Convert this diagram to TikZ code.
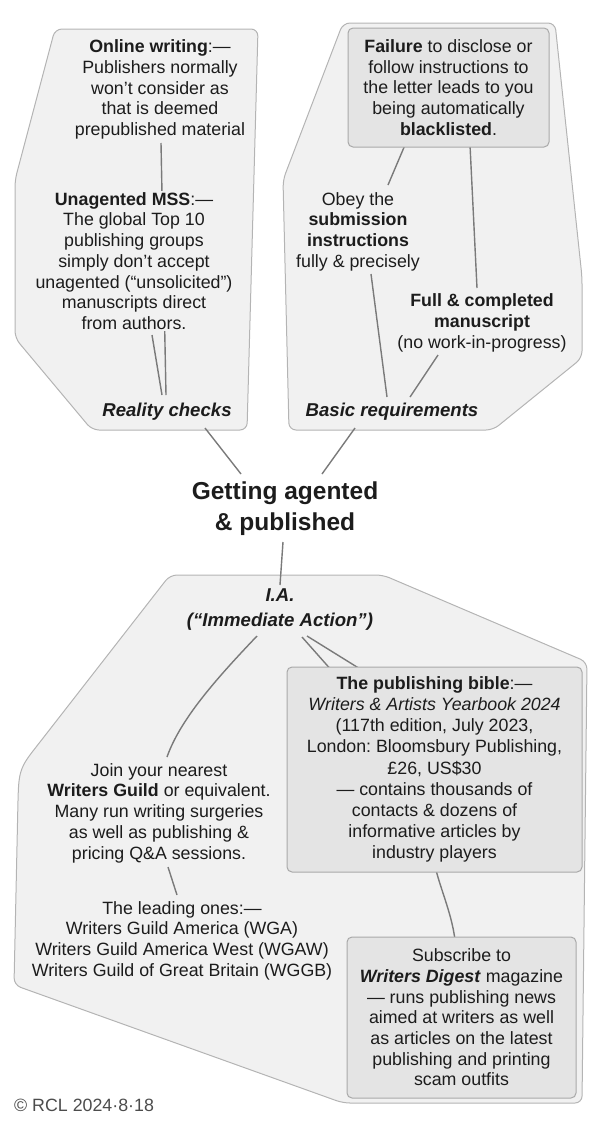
\documentclass[tikz,border=0pt]{standalone}
\usepackage{fontspec}
\setmainfont{Liberation Sans}
\definecolor{clusterbg}{HTML}{F1F1F1}
\definecolor{clusterln}{HTML}{B4B4B4}
\definecolor{boxbg}{HTML}{E4E4E4}
\definecolor{boxln}{HTML}{A9A9A9}
\definecolor{edgec}{HTML}{7A7A7A}
\definecolor{txt}{HTML}{1C1C1C}
\pgfdeclarelayer{back}
\pgfdeclarelayer{lines}
\pgfsetlayers{back,lines,main}
\tikzset{
  cluster/.style={fill=clusterbg, draw=clusterln, line width=1pt, rounded corners=7pt},
  txtnode/.style={align=center, inner sep=1pt, text=txt, font=\fontsize{17.8}{20.7}\selectfont},
  hidenode/.style={txtnode, fill=clusterbg},
  boxnode/.style={txtnode, fill=boxbg, draw=boxln, line width=1pt, rounded corners=5pt},
  lbl/.style={txtnode, font=\fontsize{18.6}{20.7}\selectfont\bfseries\itshape},
  edge/.style={draw=edgec, line width=1.4pt},
}
\frenchspacing
\begin{document}
\frenchspacing
\begin{tikzpicture}[x=1pt,y=-1pt]
\useasboundingbox (0,0) rectangle (600,1127);

% nodes
\node[txtnode] (online) at (160,89.5) {\textbf{Online writing}:—\\Publishers normally\\won’t consider as\\that is deemed\\prepublished material};
\node[hidenode] (mss) at (134,261) {\textbf{Unagented MSS}:—\\The global Top 10\\publishing groups\\simply don’t accept\\unagented (“unsolicited”)\\manuscripts direct\\from authors.};
\node[lbl] (reality) at (167,412) {Reality checks};
\node[boxnode, minimum width=201pt, minimum height=119pt] (failure) at (448.5,87.5) {\textbf{Failure} to disclose or\\follow instructions to\\the letter leads to you\\being automatically\\\textbf{blacklisted}.};
\node[txtnode] (obey) at (358,231.5) {Obey the\\\textbf{submission}\\\textbf{instructions}\\fully \& precisely};
\node[txtnode] (full) at (482,323) {\textbf{Full \& completed}\\\textbf{manuscript}\\(no work-in-progress)};
\node[lbl] (basic) at (392,412) {Basic requirements};
\node[txtnode, font=\fontsize{24.5}{31}\selectfont\bfseries] (getting) at (285,509) {Getting agented\\\& published};
\node[lbl, font=\fontsize{18.6}{25}\selectfont\bfseries\itshape] (ia) at (280,609.5) {I.A.\\(“Immediate Action”)};
\node[boxnode, font=\fontsize{17.8}{21.2}\selectfont, minimum width=295pt, minimum height=205pt] (bible) at (434.5,769.5) {\textbf{The publishing bible}:—\\\textit{Writers \& Artists Yearbook 2024}\\(117th edition, July 2023,\\London: Bloomsbury Publishing,\\£26, US\$30\\— contains thousands of\\contacts \& dozens of\\informative articles by\\industry players};
\node[txtnode] (join) at (159,813) {Join your nearest\\\textbf{Writers Guild} or equivalent.\\Many run writing surgeries\\as well as publishing \&\\pricing Q\&A sessions.};
\node[txtnode] (leading) at (182,940.5) {The leading ones:—\\Writers Guild America (WGA)\\Writers Guild America West (WGAW)\\Writers Guild of Great Britain (WGGB)};
\node[boxnode, minimum width=229pt, minimum height=161pt] (digest) at (461.5,1017.5) {Subscribe to\\\textbf{\textit{Writers Digest}} magazine\\— runs publishing news\\aimed at writers as well\\as articles on the latest\\publishing and printing\\scam outfits};
\node[txtnode, anchor=west, text=black!70] (copy) at (13,1105) {© RCL 2024·8·18};

% connectors
\begin{pgfonlayer}{lines}
\draw[edge] ([xshift=-1pt,yshift=17pt]reality.center) -- ([xshift=1pt,yshift=-53.5pt]online.center);
\draw[edge] ([xshift=-5pt,yshift=17pt]reality.center) -- ([xshift=18pt,yshift=-74pt]mss.center);
\draw[edge] ([xshift=-43.5pt,yshift=-57.5pt]failure.center) -- ([xshift=30pt,yshift=46.5pt]obey.center);
\draw[edge] ([xshift=21.5pt,yshift=-57.5pt]failure.center) -- ([xshift=-5pt,yshift=35pt]full.center);
\draw[edge] ([xshift=-5pt,yshift=15pt]basic.center) -- ([xshift=13pt,yshift=-42.5pt]obey.center);
\draw[edge] ([xshift=18pt,yshift=15pt]basic.center) -- ([xshift=-44pt,yshift=-32pt]full.center);
\draw[edge] ([xshift=38pt,yshift=-16pt]reality.center) -- ([xshift=-44pt,yshift=35pt]getting.center);
\draw[edge] ([xshift=-37pt,yshift=-16pt]basic.center) -- ([xshift=37pt,yshift=35pt]getting.center);
\draw[edge] ([xshift=-2pt,yshift=-33pt]getting.center) -- ([yshift=24.5pt]ia.center);
\draw[edge] ([xshift=-23pt,yshift=-26.5pt]ia.center) .. controls (215,680) and (180,720) .. ([xshift=8pt,yshift=56pt]join.center);
\draw[edge] ([xshift=22pt,yshift=-27.5pt]ia.center) -- ([xshift=-101.5pt,yshift=97.5pt]bible.center);
\draw[edge] ([xshift=27pt,yshift=-26.5pt]ia.center) -- ([xshift=-69.5pt,yshift=97.5pt]bible.center);
\draw[edge] ([xshift=1.5pt,yshift=-100.5pt]bible.center) .. controls (441,890) and (452,915) .. ([xshift=-6.5pt,yshift=77.5pt]digest.center);
\draw[edge] ([xshift=9pt,yshift=-54pt]join.center) -- ([xshift=-5pt,yshift=45.5pt]leading.center);
\end{pgfonlayer}

% cluster shapes
\begin{pgfonlayer}{back}
\path[cluster] (55,29) -- (258,29) -- (247,430) -- (92,430) -- (15,338) -- (15,180) -- cycle;
\path[cluster] (343,23) -- (555,23) -- (582,277) -- (582,358) -- (493,430) -- (289,430) -- (283,180) -- cycle;
\path[cluster] (170,575) -- (383,575) -- (587,662) -- (582,1103) -- (343,1103) -- (14,985) -- (18,800) .. controls (19,770) and (22,765) .. (40,742) -- cycle;
\end{pgfonlayer}
\end{tikzpicture}
\end{document}
